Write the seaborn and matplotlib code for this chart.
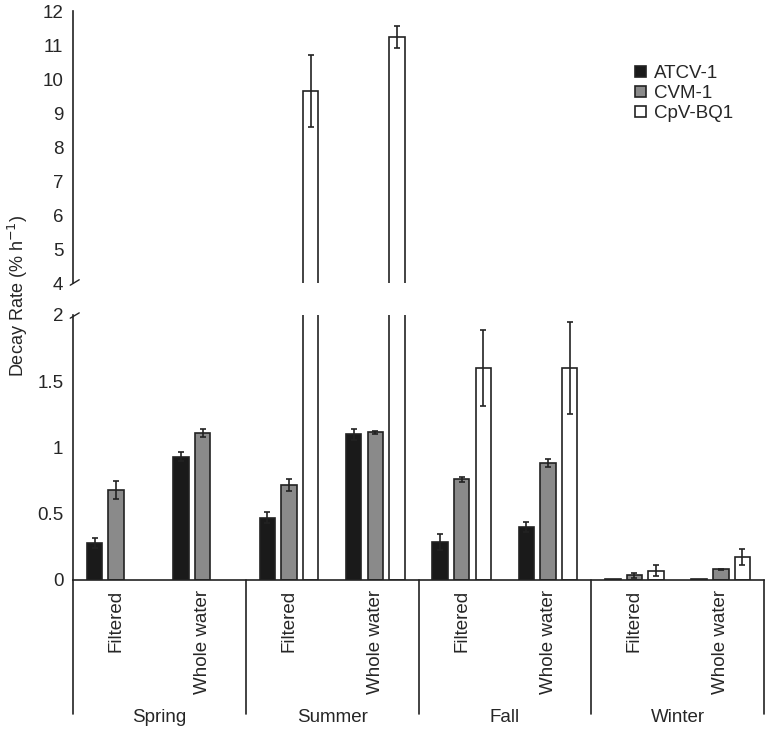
import numpy as np
import pandas as pd
import matplotlib
matplotlib.use('Agg')
import matplotlib.pyplot as plt
import matplotlib.transforms as mtransforms
import seaborn as sns

sns.set_style('white')
plt.rcParams['font.family'] = ['Liberation Sans', 'DejaVu Sans']

# Data
seasons = ['Spring', 'Summer', 'Fall', 'Winter']
treatments = ['Filtered', 'Whole water']
viruses = ['ATCV-1', 'CVM-1', 'CpV-BQ1']

atcv = [0.28, 0.93, 0.47, 1.10, 0.29, 0.40, 0.008, 0.005]
atcv_err = [0.035, 0.035, 0.04, 0.04, 0.06, 0.035, 0.0, 0.0]
cvm = [0.68, 1.11, 0.72, 1.115, 0.76, 0.88, 0.035, 0.08]
cvm_err = [0.07, 0.03, 0.045, 0.01, 0.02, 0.03, 0.02, 0.005]
cpv = [np.nan, np.nan, 9.65, 11.24, 1.60, 1.60, 0.07, 0.175]
cpv_err = [np.nan, np.nan, 1.07, 0.33, 0.29, 0.35, 0.04, 0.06]

samples = [f'{s} {t}' for s in seasons for t in treatments]
df = pd.DataFrame({
    'sample': samples * 3,
    'virus': np.repeat(viruses, len(samples)),
    'rate': atcv + cvm + cpv,
    'err': atcv_err + cvm_err + cpv_err,
})
err_lookup = df.set_index(['virus', 'sample'])['err']

colors = {'ATCV-1': '#1a1a1a', 'CVM-1': '#8a8a8a', 'CpV-BQ1': '#ffffff'}

fig = plt.figure(figsize=(7.66, 7.30), dpi=100)
ax_top = fig.add_axes([0.0953, 0.6123, 0.9021, 0.3726])
ax_bot = fig.add_axes([0.0953, 0.2055, 0.9021, 0.3630])

for ax in (ax_top, ax_bot):
    sns.barplot(data=df, x='sample', y='rate', hue='virus', order=samples,
                hue_order=viruses, palette=colors, edgecolor='#222222',
                linewidth=1.2, width=0.75, gap=0.28, errorbar=None,
                legend=(ax is ax_top), ax=ax)
    # error bars on the drawn bars
    for cont, virus in zip(ax.containers, viruses):
        for bar in cont:
            h = bar.get_height()
            if np.isnan(h):
                continue
            xc = bar.get_x() + bar.get_width() / 2
            e = err_lookup[(virus, samples[int(round(xc))])]
            if e > 0:
                ax.errorbar(xc, h, yerr=e, fmt='none', ecolor='#222222',
                            elinewidth=1.2, capsize=2.5, capthick=1.2)
    ax.set_xlim(-0.5, 7.5)
    ax.set_xlabel('')
    ax.set_ylabel('')
    ax.tick_params(axis='y', length=0, labelsize=13.5, pad=7)
    for sp in ['top', 'right']:
        ax.spines[sp].set_visible(False)
    ax.spines['left'].set_color('#222222')
    ax.spines['left'].set_linewidth(1.2)

# upper panel
ax_top.set_ylim(4, 12)
ax_top.set_yticks(range(4, 13))
ax_top.spines['bottom'].set_visible(False)
ax_top.set_xticks([])
handles, labels = ax_top.get_legend_handles_labels()
ax_top.legend(handles, labels, loc='upper left', bbox_to_anchor=(0.803, 0.828),
              frameon=False, fontsize=13.5, handlelength=0.55, handleheight=0.55,
              handletextpad=0.45, labelspacing=0.15, borderaxespad=0)

# lower panel
ax_bot.set_ylim(0, 2)
ax_bot.set_yticks([0, 0.5, 1, 1.5, 2])
ax_bot.set_yticklabels(['0', '0.5', '1', '1.5', '2'])
ax_bot.spines['bottom'].set_color('#222222')
ax_bot.spines['bottom'].set_linewidth(1.2)
ax_bot.set_xticks(range(len(samples)))
ax_bot.set_xticklabels(treatments * len(seasons), rotation=90, va='top')
ax_bot.tick_params(axis='x', length=0, labelsize=13.5, pad=7)

# season brackets below the axis
trans = mtransforms.blended_transform_factory(ax_bot.transData, ax_bot.transAxes)
for x in [-0.5, 1.5, 3.5, 5.5, 7.5]:
    ax_bot.plot([x, x], [0, -0.505], transform=trans, color='#222222',
                lw=1.2, clip_on=False)
for i, s in enumerate(seasons):
    ax_bot.text(2 * i + 0.5, -0.52, s, transform=trans, ha='center',
                va='center', fontsize=13.5)

# axis break marks
ax_top.plot([-0.004, 0.009], [-0.008, 0.012], transform=ax_top.transAxes,
            color='#222222', lw=1.0, clip_on=False)
ax_bot.plot([-0.004, 0.009], [0.988, 1.008], transform=ax_bot.transAxes,
            color='#222222', lw=1.0, clip_on=False)

fig.text(0.024, 0.5945, 'Decay Rate (% h$^{-1}$)', rotation=90,
         ha='center', va='center', fontsize=13)

fig.savefig('out.png', dpi=100)
